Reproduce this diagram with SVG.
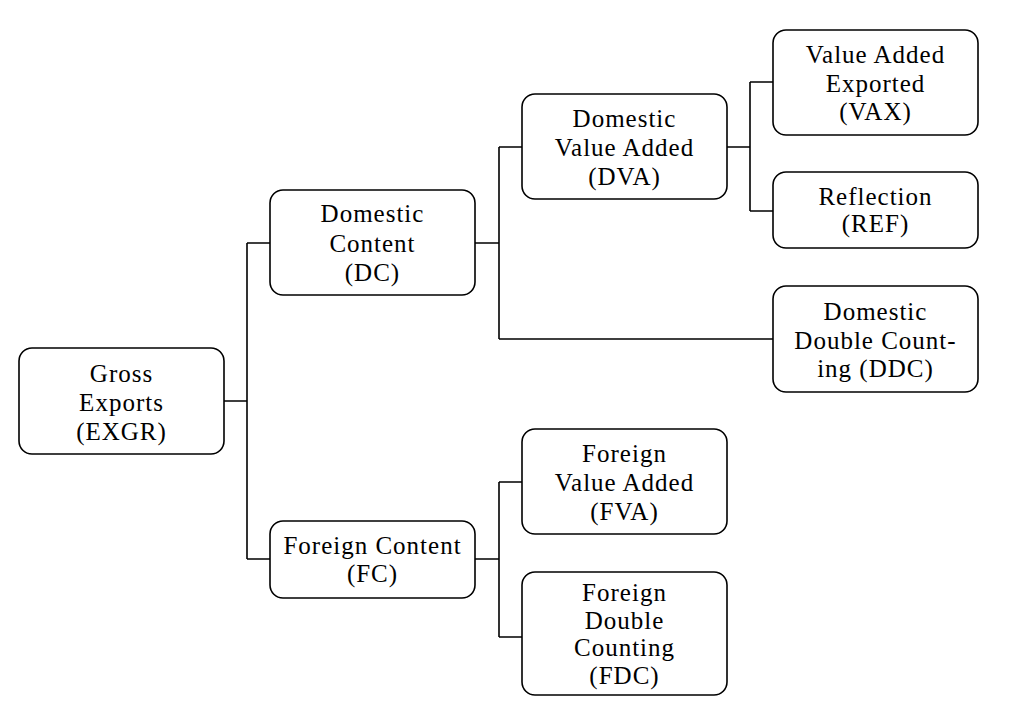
<svg xmlns="http://www.w3.org/2000/svg" width="1016" height="728" viewBox="0 0 1016 728">
<style>
.box{fill:#fff;stroke:#000;stroke-width:1.6}
.lbl{font-family:"Liberation Serif","Times New Roman",serif;font-size:25px;fill:#000;text-anchor:middle;letter-spacing:1px}
.conn{fill:none;stroke:#000;stroke-width:1.6}
</style>
<rect width="1016" height="728" fill="#fff"/>
<g id="connectors" class="conn">
<path d="M224,401 H247 M247,243 V559 M247,243 H270 M247,559 H270"/>
<path d="M475,243 H499 M499,147 V339 M499,147 H522 M499,339 H773"/>
<path d="M727,147 H750 M750,82 V211 M750,82 H773 M750,211 H773"/>
<path d="M475,559 H499 M499,482 V637 M499,482 H522 M499,637 H522"/>
</g>
<g id="EXGR"><rect class="box" x="19" y="348" width="205" height="106" rx="13"/>
<text class="lbl" x="121.5" y="382">Gross</text><text class="lbl" x="121.5" y="411">Exports</text><text class="lbl" x="121.5" y="440">(EXGR)</text></g>
<g id="DC"><rect class="box" x="270" y="190" width="205" height="105" rx="13"/>
<text class="lbl" x="372.5" y="222">Domestic</text><text class="lbl" x="372.5" y="251.5">Content</text><text class="lbl" x="372.5" y="281">(DC)</text></g>
<g id="FC"><rect class="box" x="270" y="521" width="205" height="77" rx="13"/>
<text class="lbl" x="372.5" y="554">Foreign Content</text><text class="lbl" x="372.5" y="582">(FC)</text></g>
<g id="DVA"><rect class="box" x="522" y="94" width="205" height="105" rx="13"/>
<text class="lbl" x="624.5" y="127">Domestic</text><text class="lbl" x="624.5" y="156">Value Added</text><text class="lbl" x="624.5" y="185">(DVA)</text></g>
<g id="FVA"><rect class="box" x="522" y="429" width="205" height="105" rx="13"/>
<text class="lbl" x="624.5" y="462">Foreign</text><text class="lbl" x="624.5" y="491">Value Added</text><text class="lbl" x="624.5" y="520">(FVA)</text></g>
<g id="FDC"><rect class="box" x="522" y="572" width="205" height="123" rx="13"/>
<text class="lbl" x="624.5" y="601">Foreign</text><text class="lbl" x="624.5" y="628.5">Double</text><text class="lbl" x="624.5" y="656">Counting</text><text class="lbl" x="624.5" y="683.5">(FDC)</text></g>
<g id="VAX"><rect class="box" x="773" y="30" width="205" height="105" rx="13"/>
<text class="lbl" x="875.5" y="63">Value Added</text><text class="lbl" x="875.5" y="91.5">Exported</text><text class="lbl" x="875.5" y="120">(VAX)</text></g>
<g id="REF"><rect class="box" x="773" y="172" width="205" height="76" rx="13"/>
<text class="lbl" x="875.5" y="205">Reflection</text><text class="lbl" x="875.5" y="232">(REF)</text></g>
<g id="DDC"><rect class="box" x="773" y="286" width="205" height="106" rx="13"/>
<text class="lbl" x="875.5" y="320">Domestic</text><text class="lbl" x="875.5" y="348.5">Double Count-</text><text class="lbl" x="875.5" y="377">ing (DDC)</text></g>
</svg>
